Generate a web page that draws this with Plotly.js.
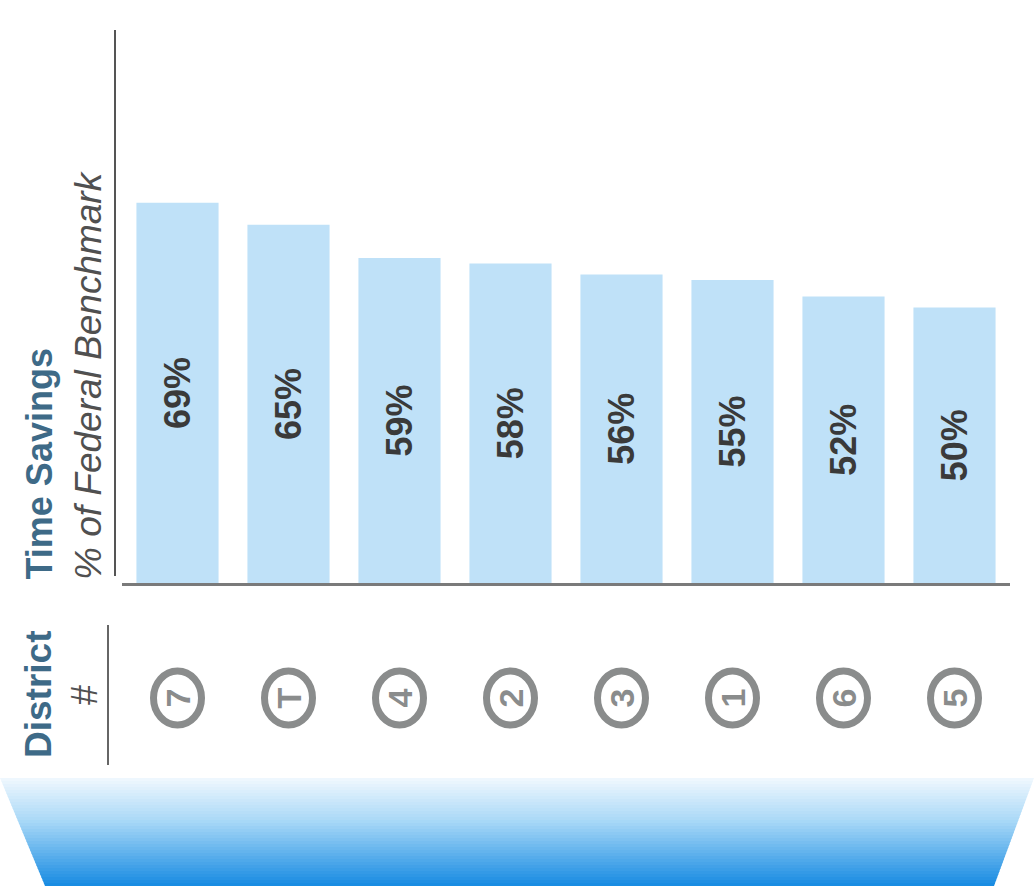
<!DOCTYPE html>
<html>
<head>
<meta charset="utf-8">
<script src="https://cdn.plot.ly/plotly-3.0.1.min.js"></script>
<style>html,body{margin:0;padding:0;background:#fff;}#chart{width:1034px;height:886px;}</style>
</head>
<body>
<div id="chart"></div>
<script>
// ---- data ----
const districts = ['7', 'T', '4', '2', '3', '1', '6', '5'];
const savings = [69, 65, 59, 58, 56, 55, 52, 50];
const savingLabels = ['69%', '65%', '59%', '58%', '56%', '55%', '52%', '50%'];
const yTitleMain = 'Time Savings';
const yTitleSub = '% of Federal Benchmark';
const xTitleMain = 'District';
const xTitleSub = '#';

// ---- layout helpers ----
const W = 1034, H = 886;
const M = {l: 122, r: 24, t: 32, b: 303};
const pw = W - M.l - M.r, ph = H - M.t - M.b;
const px2x = px => (px - M.l) / pw;
const py2y = py => (H - M.b - py) / ph;
const FONT = 'Liberation Sans, Arial, sans-serif';

const shapes = [];
const annotations = [];

// separator lines
shapes.push({type: 'line', xref: 'paper', yref: 'paper', x0: px2x(115), x1: px2x(115), y0: py2y(30), y1: py2y(576), line: {color: '#555', width: 2}});
shapes.push({type: 'line', xref: 'paper', yref: 'paper', x0: px2x(108), x1: px2x(108), y0: py2y(625), y1: py2y(765), line: {color: '#666', width: 2}});

// circles + district labels
const circY = py2y(698);
districts.forEach((d, i) => {
  shapes.push({type: 'circle', xref: 'x', yref: 'paper', xsizemode: 'pixel', ysizemode: 'pixel',
    xanchor: i, yanchor: circY, x0: -24, x1: 24, y0: -27, y1: 27,
    line: {color: '#8a8c8c', width: 7}, fillcolor: 'rgba(0,0,0,0)'});
  annotations.push({x: i, xref: 'x', y: circY, yref: 'paper', text: '<b>' + d + '</b>', showarrow: false, textangle: -90,
    xanchor: 'center', yanchor: 'middle', font: {family: FONT, size: 34, color: '#8a8c8c'}});
});

// axis titles
annotations.push({xref: 'paper', yref: 'paper', x: px2x(39), y: py2y(581), xanchor: 'center', yanchor: 'bottom',
  text: '<b>' + yTitleMain + '</b>', showarrow: false, textangle: -90, borderpad: 0,
  font: {family: FONT, size: 36, color: '#3e6a87'}});
annotations.push({xref: 'paper', yref: 'paper', x: px2x(88), y: py2y(581), xanchor: 'center', yanchor: 'bottom',
  text: '<i>' + yTitleSub + '</i>', showarrow: false, textangle: -90, borderpad: 0,
  font: {family: FONT, size: 37, color: '#505050'}});
annotations.push({xref: 'paper', yref: 'paper', x: px2x(38), y: py2y(695), xanchor: 'center', yanchor: 'middle',
  text: '<b>' + xTitleMain + '</b>', showarrow: false, textangle: -90,
  font: {family: FONT, size: 37, color: '#3e6a87'}});
annotations.push({xref: 'paper', yref: 'paper', x: px2x(84), y: py2y(695), xanchor: 'center', yanchor: 'middle',
  text: xTitleSub, showarrow: false, textangle: -90,
  font: {family: FONT, size: 36, color: '#505050'}});

// bottom gradient band (decoration)
const topY = 778, botY = 886, N = 36;
const stops = [[0, [240, 248, 254]], [0.4, [168, 216, 247]], [1, [22, 138, 226]]];
function colAt(t) {
  for (let k = 1; k < stops.length; k++) {
    if (t <= stops[k][0]) {
      const a = stops[k - 1], b = stops[k];
      const f = (t - a[0]) / (b[0] - a[0]);
      const c = a[1].map((v, j) => Math.round(v + (b[1][j] - v) * f));
      return 'rgb(' + c.join(',') + ')';
    }
  }
  return 'rgb(' + stops[stops.length - 1][1].join(',') + ')';
}
const edgeL = py => 0 + (py - topY) / (botY - topY) * 45;
const edgeR = py => 1034 - (py - topY) / (botY - topY) * 40;
for (let k = 0; k < N; k++) {
  const ya = topY + (botY - topY) * k / N, yb = topY + (botY - topY) * (k + 1) / N + 0.6;
  const path = 'M' + px2x(edgeL(ya)) + ',' + py2y(ya) + ' L' + px2x(edgeR(ya)) + ',' + py2y(ya) +
    ' L' + px2x(edgeR(yb)) + ',' + py2y(yb) + ' L' + px2x(edgeL(yb)) + ',' + py2y(yb) + ' Z';
  shapes.push({type: 'path', xref: 'paper', yref: 'paper', path: path, fillcolor: colAt((k + 0.5) / N), line: {width: 0}, layer: 'below'});
}

const trace = {
  type: 'bar', x: districts.map((d, i) => i), y: savings, text: savingLabels.map(s => '<b>' + s + '</b>'),
  textposition: 'inside', insidetextanchor: 'middle', textangle: -90,
  textfont: {family: FONT, size: 36, color: '#3a3a3a'},
  marker: {color: '#bfe1f8', line: {width: 0}}, hoverinfo: 'skip', cliponaxis: false
};

const layout = {
  width: W, height: H, margin: M, paper_bgcolor: '#fff', plot_bgcolor: 'rgba(0,0,0,0)',
  showlegend: false, bargap: 0.26,
  xaxis: {type: 'linear', range: [-0.5, districts.length - 0.5], showticklabels: false, ticks: '', showgrid: false,
    zeroline: false, showline: true, linecolor: '#7a7a7a', linewidth: 3, fixedrange: true},
  yaxis: {range: [0, 100], showticklabels: false, ticks: '', showgrid: false, zeroline: false, showline: false, fixedrange: true},
  shapes: shapes, annotations: annotations
};

Plotly.newPlot('chart', [trace], layout, {displayModeBar: false, staticPlot: true});
</script>
</body>
</html>
